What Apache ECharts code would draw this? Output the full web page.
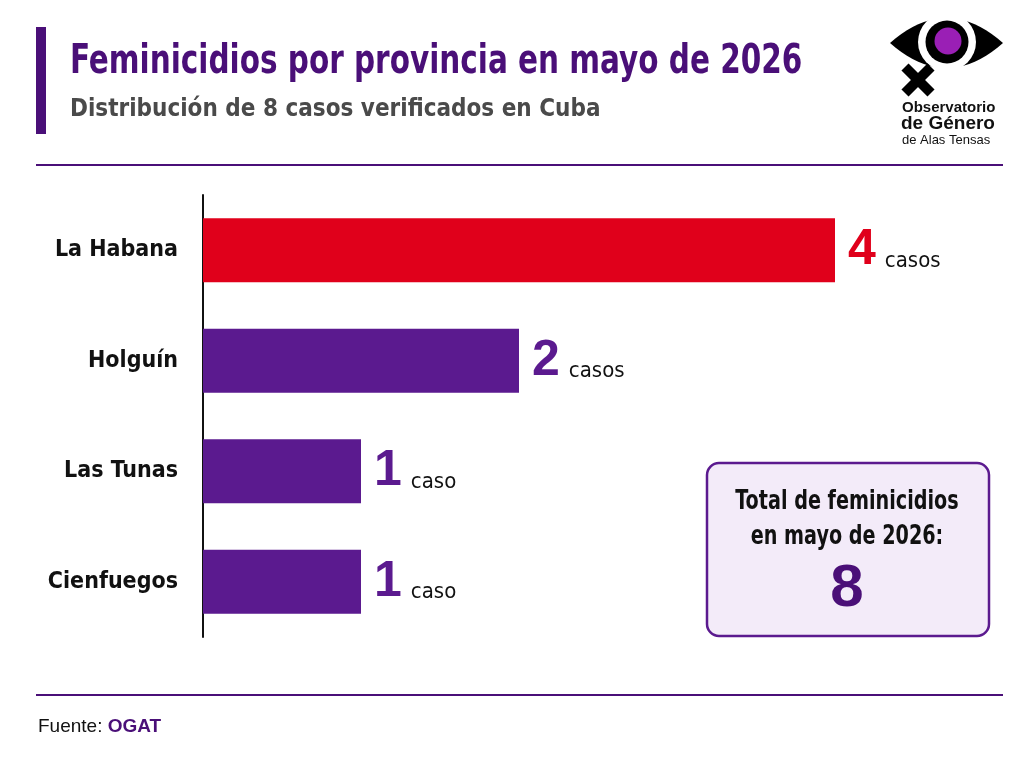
<!DOCTYPE html>
<html>
<head>
<meta charset="utf-8">
<script src="https://cdn.jsdelivr.net/npm/echarts@6/dist/echarts.min.js"></script>
<style>
html, body { margin: 0; padding: 0; background: #ffffff; }
#chart { width: 1024px; height: 768px; }
</style>
</head>
<body>
<div id="chart"></div>
<script>
// datos
var provincias = ['La Habana', 'Holguín', 'Las Tunas', 'Cienfuegos'];
var casos = [4, 2, 1, 1];
var totalCasos = 8;

var PURPLE = '#5b1a8f';
var DARK_PURPLE = '#4a0f78';
var RED = '#e0001b';
var COND = '"DejaVu Sans Condensed", "DejaVu Sans", sans-serif';

var chart = echarts.init(document.getElementById('chart'));

var barData = casos.map(function(v, i) {
	return {
		value: v,
		itemStyle: { color: i === 0 ? RED : PURPLE }
	};
});

// forma de ojo del logo (dos curvas cuadraticas)
function ojo(x0, x1, yc, h) {
	var pts = [], i, t, xm = (x0 + x1) / 2;
	for (i = 0; i <= 20; i++) {
		t = i / 20;
		pts.push([x0 * (1 - t) * (1 - t) + 2 * xm * t * (1 - t) + x1 * t * t, yc - 2 * h * t * (1 - t)]);
	}
	for (i = 19; i > 0; i--) {
		t = i / 20;
		pts.push([x0 * (1 - t) * (1 - t) + 2 * xm * t * (1 - t) + x1 * t * t, yc + 2 * h * t * (1 - t)]);
	}
	return pts;
}

var option = {
	backgroundColor: '#ffffff',
	animation: false,
	grid: { left: 203, top: 195, width: 632, height: 442 },
	xAxis: {
		type: 'value',
		min: 0,
		max: 4,
		show: false
	},
	yAxis: {
		type: 'category',
		inverse: true,
		data: provincias,
		axisLine: { show: true, lineStyle: { color: '#111', width: 2 } },
		axisTick: { show: false },
		axisLabel: {
			margin: 25,
			color: '#111',
			fontFamily: COND,
			fontWeight: 'bold',
			fontSize: 23
		}
	},
	series: [{
		type: 'bar',
		barWidth: 64,
		data: barData,
		label: {
			show: true,
			position: 'right',
			distance: 13,
			formatter: function(p) {
				var unidad = p.value === 1 ? 'caso' : 'casos';
				var tag = p.dataIndex === 0 ? 'r' : 'p';
				return '{' + tag + '|' + p.value + '}{u|' + unidad + '}';
			},
			rich: {
				r: { color: RED, fontFamily: 'Liberation Sans, sans-serif', fontWeight: 'bold', fontSize: 50, padding: [0, 9, 0, 0] },
				p: { color: PURPLE, fontFamily: 'Liberation Sans, sans-serif', fontWeight: 'bold', fontSize: 50, padding: [0, 9, 0, 0] },
				u: { color: '#111', fontFamily: COND, fontSize: 22, padding: [22, 0, 0, 0] }
			}
		}
	}],
	graphic: [
		// barra lateral del titulo
		{ type: 'rect', shape: { x: 36, y: 27, width: 10, height: 107 }, style: { fill: DARK_PURPLE } },
		{ type: 'text', x: 70, y: 63, scaleX: 0.82, style: { x: 0, y: 0, text: 'Feminicidios por provincia en mayo de 2026', font: 'bold 40px ' + COND, fill: DARK_PURPLE, textVerticalAlign: 'middle' } },
		{ type: 'text', style: { x: 70, y: 110, text: 'Distribución de ' + totalCasos + ' casos verificados en Cuba', font: 'bold 24px ' + COND, fill: '#4a4a4a', textVerticalAlign: 'middle' } },
		// lineas
		{ type: 'line', shape: { x1: 36, y1: 165, x2: 1003, y2: 165 }, style: { stroke: DARK_PURPLE, lineWidth: 2 } },
		{ type: 'line', shape: { x1: 36, y1: 695, x2: 1003, y2: 695 }, style: { stroke: DARK_PURPLE, lineWidth: 2 } },
		// logo
		{ type: 'polygon', shape: { points: ojo(890, 1003, 43, 50) }, style: { fill: '#000' } },
		{ type: 'circle', shape: { cx: 947, cy: 42, r: 29 }, style: { fill: '#fff' } },
		{ type: 'circle', shape: { cx: 947, cy: 42, r: 21.5 }, style: { fill: '#000' } },
		{ type: 'circle', shape: { cx: 948, cy: 41, r: 13.5 }, style: { fill: '#9a1fb5' } },
		{ type: 'line', shape: { x1: 905, y1: 67, x2: 931, y2: 93 }, style: { stroke: '#000', lineWidth: 10 } },
		{ type: 'line', shape: { x1: 931, y1: 67, x2: 905, y2: 93 }, style: { stroke: '#000', lineWidth: 10 } },
		{ type: 'text', style: { x: 902, y: 108, text: 'Observatorio', font: 'bold 15px "Liberation Sans", sans-serif', fill: '#111', textVerticalAlign: 'middle' } },
		{ type: 'text', style: { x: 901, y: 124, text: 'de Género', font: 'bold 19px "Liberation Sans", sans-serif', fill: '#111', textVerticalAlign: 'middle' } },
		{ type: 'text', style: { x: 902, y: 140, text: 'de Alas Tensas', font: '13px "Liberation Sans", sans-serif', fill: '#111', textVerticalAlign: 'middle' } },
		// recuadro total
		{ type: 'rect', shape: { x: 707, y: 463, width: 282, height: 173, r: 12 }, style: { fill: '#f3ebf9', stroke: PURPLE, lineWidth: 2.5 } },
		{ type: 'text', x: 847, y: 502, scaleX: 0.79, style: { x: 0, y: 0, text: 'Total de feminicidios', font: 'bold 27px ' + COND, fill: '#111', textAlign: 'center', textVerticalAlign: 'middle' } },
		{ type: 'text', x: 847, y: 537, scaleX: 0.79, style: { x: 0, y: 0, text: 'en mayo de 2026:', font: 'bold 27px ' + COND, fill: '#111', textAlign: 'center', textVerticalAlign: 'middle' } },
		{ type: 'text', style: { x: 847, y: 589, text: String(totalCasos), font: 'bold 60px "Liberation Sans", sans-serif', fill: DARK_PURPLE, textAlign: 'center', textVerticalAlign: 'middle' } },
		// fuente
		{ type: 'text', style: { x: 38, y: 727, text: '{a|Fuente: }{b|OGAT}', fill: '#111', textVerticalAlign: 'middle',
			rich: {
				a: { fontFamily: 'Liberation Sans, sans-serif', fontSize: 19, fill: '#111' },
				b: { fontFamily: 'Liberation Sans, sans-serif', fontSize: 19, fontWeight: 'bold', fill: DARK_PURPLE }
			} } }
	]
};

chart.setOption(option);
</script>
</body>
</html>
